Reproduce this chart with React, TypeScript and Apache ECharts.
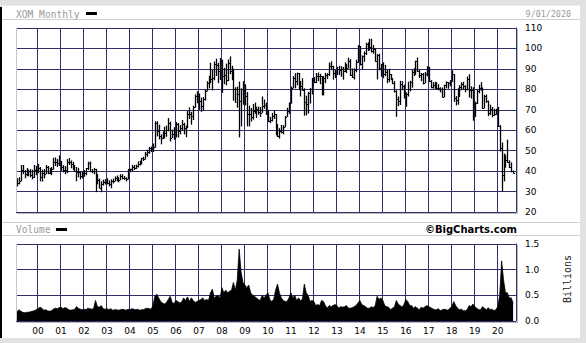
import React, { useEffect, useRef } from 'react';
import * as echarts from 'echarts';

// Monthly bars, Feb 1999 .. Sep 2020 (axis runs one extra month to Oct 2020)
const START_YEAR = 1999;
const START_MONTH = 2;
const MONTH_COUNT = 261;

const priceHigh: number[] = [
  36.5, 37, 43, 43, 40.5, 41.5, 40.7, 41, 40.7, 43, 42.5,
  43.5, 42, 40.7, 41, 43, 42.5, 41.5, 42, 46.5, 46.7, 45.9, 47.7,
  45, 42.9, 42.5, 45.9, 46.4, 45.2, 44.5, 43, 42, 41.6, 39.9, 39.7,
  40.5, 41.5, 44.6, 44.7, 41, 41.5, 41.1, 38.5, 36.3, 35, 35.8, 36,
  36.5, 35.5, 36, 36.3, 37.4, 37.9, 37, 38.5, 38.5, 37.6, 37, 41.1,
  41.2, 43, 43, 43.2, 44.8, 45.1, 46.5, 47, 49.4, 50.5, 51.8, 52,
  53.5, 64.4, 64.4, 62.7, 58, 59.5, 61.7, 62.3, 65.95, 64.2, 60.3, 61.5,
  64, 63.5, 62.5, 65, 63.6, 62.3, 69.4, 71.2, 69, 72, 77.5, 79,
  78, 76, 76.2, 80, 84, 86.6, 93, 89.5, 93.6, 95, 93, 95.3,
  94.5, 90.5, 92.6, 94.6, 96.1, 91.5, 90, 81, 81.3, 83.8, 80.5, 84,
  82.5, 78.7, 72, 70.9, 72.8, 73.5, 71.5, 71.6, 71.4, 76.5, 75, 73.5,
  70, 66.5, 68.5, 69.9, 68, 63, 61, 62.6, 62.5, 67, 71, 73.6,
  81.4, 86.5, 87.9, 88.2, 88, 84, 85.4, 80.5, 76.9, 78.8, 80.7, 85.6,
  86, 88, 88.2, 87.6, 86.5, 86.5, 88.1, 87.9, 93.1, 93.7, 91.5, 89.7,
  91, 91.5, 91.3, 91, 93.2, 92.5, 95.5, 94.8, 90.2, 90.3, 94.5, 101.7,
  101.2, 96.6, 98.6, 102.8, 103, 104.8, 104.7, 101.7, 100, 97.2, 97.4, 92.5,
  93.2, 92, 89.5, 90.1, 87.5, 85.5, 84, 79.5, 76.5, 84.2, 84, 82.3,
  78.5, 83.7, 84.2, 89.5, 90.3, 94, 95.6, 89.5, 88, 88, 88.5, 91.3,
  91, 84.5, 83.5, 83.7, 83.5, 82.5, 81, 80.9, 82.3, 83.9, 83.6, 84.5,
  89.3, 87.4, 76.7, 80.5, 82, 83.5, 83.7, 82, 86.3, 87.4, 81.5, 81,
  74, 79.8, 82.2, 83.5, 80.9, 77.3, 77.5, 74.5, 72.5, 71.4, 70.5, 70.5,
  71.4, 62.5, 54, 48.6, 48, 55.4, 45.3, 44.3, 40.3,
];

const priceLow: number[] = [
  32.5, 33.5, 35, 38.5, 36.5, 37.5, 37.5, 37, 36, 36.7, 38,
  39, 35, 34.9, 36.5, 38.5, 38.5, 38.5, 38, 40.7, 42.5, 42, 42.5,
  40.1, 39.4, 38.5, 39, 43, 41.4, 40.6, 39.8, 35, 37, 36, 36.4,
  37.2, 38, 40.5, 39.5, 39, 38.5, 29.75, 33.5, 31.6, 29.7, 33, 33.5,
  33.5, 32.5, 31.6, 34, 35, 35, 34.5, 35.5, 36, 35.8, 35, 35.9,
  39.5, 40, 40.5, 41, 41.8, 42.8, 43.3, 45, 45.7, 47, 48.5, 49.3,
  49.3, 51.5, 57, 55.5, 53.1, 55.7, 56, 56.8, 59.5, 54.5, 56.2, 55.3,
  56.5, 56.4, 58, 60, 58, 56.6, 61, 65.5, 62.7, 65, 71, 73.2,
  70, 69, 69.5, 74.5, 79, 80.5, 83, 79.4, 84.4, 86.5, 83, 84.6,
  78.3, 82.5, 82, 84, 87.4, 84.5, 74.5, 73.3, 71, 56.5, 61.9, 72.5,
  72.1, 61.9, 61.9, 64.3, 65.2, 68, 66, 67.6, 66.5, 68.5, 70.5, 67.5,
  64, 63.5, 64.3, 65.5, 57.5, 56.7, 55.9, 58.5, 58, 61.5, 66.5, 68,
  73, 80.5, 80.5, 82, 79.6, 76.5, 79.3, 67.1, 67.3, 68.2, 73, 77.5,
  83, 83, 84, 82.5, 77.1, 77, 83, 85, 86.5, 89.5, 84.7, 85.5,
  87, 87, 86.1, 84.7, 88.5, 88, 90.2, 86.5, 85.6, 84.8, 88.4, 93,
  91.7, 89.7, 93.5, 96.8, 98.7, 99, 98, 97.4, 93.5, 84.8, 89.3, 86.2,
  85.5, 86.5, 83, 83.5, 84.5, 82.5, 78.5, 66.55, 71.8, 72.3, 79.5, 75.5,
  71.5, 76.5, 79, 80.8, 86.5, 87, 88.5, 85.5, 84, 82.4, 83, 86.3,
  83.5, 80.5, 80.3, 80.3, 80, 79.5, 78.5, 76, 76.1, 80.5, 80.3, 81.5,
  83.7, 73.9, 72.2, 72.5, 76.3, 79.5, 80, 78.5, 79.5, 76, 75.5, 64.65,
  66.5, 72.8, 78.1, 79.3, 70.5, 70.7, 73.4, 66.9, 67.5, 66.3, 67.1, 67.5,
  61.7, 49.6, 30.1, 35, 41.7, 44, 41.5, 39.4, 38.8,
];

const priceClose: number[] = [
  34, 35.3, 40.6, 40, 38.6, 39.6, 40, 38, 37, 40.3, 40.3,
  41.5, 37.3, 39, 38.8, 42, 39.3, 40, 40.8, 44.6, 44.6, 44, 43.5,
  42, 40.5, 40.5, 44.3, 44.3, 43.7, 41.8, 40.1, 39.4, 39.5, 37.4, 39.3,
  39, 41.3, 43.8, 40.2, 40, 40.9, 36.8, 35.5, 31.9, 33.7, 34.8, 34.9,
  34.2, 33.8, 35, 35.2, 36.4, 35.9, 35.6, 37.7, 36.6, 36.6, 36, 41,
  40.8, 42.2, 41.6, 42.6, 43.3, 44.4, 46.3, 46.1, 48.3, 49.2, 51.3, 51.3,
  51.6, 63.3, 59.6, 57, 56.2, 57.5, 58.8, 59.9, 63.5, 56.1, 58, 56.2,
  62.8, 59.4, 60.9, 63.1, 60.9, 61.4, 67.7, 67.7, 67.1, 71.4, 76.8, 76.6,
  74.1, 71.7, 75.5, 79.4, 83.2, 83.9, 85.1, 85.7, 92.6, 92, 89.2, 93.7,
  86.4, 87, 84.6, 93.1, 88.8, 88.1, 80.4, 80, 77.7, 74.1, 80.2, 79.8,
  76.5, 67.9, 68.1, 66.7, 69.4, 69.9, 70.4, 69.1, 68.6, 71.7, 72.1, 68.2,
  64.4, 65, 67, 67.8, 60.5, 57.1, 59.7, 59.3, 61.8, 66.5, 69.6, 73.1,
  80.7, 85.5, 84.1, 88, 83.5, 81.4, 79.8, 74, 72.6, 78.1, 80.4, 84.8,
  83.7, 86.5, 86.7, 86.3, 78.6, 85.6, 86.9, 87.3, 91.5, 91.2, 88.1, 86.6,
  90, 89.6, 90.1, 89, 90.5, 90.4, 93.8, 87.2, 86, 89.6, 93.5, 101.2,
  92.2, 96.3, 97.7, 102.4, 100.5, 100.7, 98.9, 99.5, 94, 96.7, 90.5, 92.5,
  87.4, 88.5, 85, 87.4, 85.2, 83.2, 79.2, 75.2, 74.4, 82.7, 81.7, 78,
  77.9, 80.2, 83.6, 88.4, 89, 93.7, 89, 87.1, 87.3, 83.3, 87.3, 90.3,
  83.9, 81.3, 82, 81.6, 80.5, 80.7, 80, 76.3, 82, 83.4, 83.3, 83.6,
  87.3, 75.7, 74.6, 77.8, 81.2, 82.7, 81.5, 80.2, 85, 79.7, 79.5, 68.2,
  73.3, 79, 80.8, 80.3, 70.8, 76.6, 74.4, 68.5, 70.6, 67.6, 68.1, 69.8,
  62.1, 51.4, 38, 46.5, 45.5, 44.7, 42.1, 39.9, 39,
];

// Monthly volume, billions of shares
const volume: number[] = [
  0.18, 0.22, 0.19, 0.17, 0.16, 0.17, 0.17, 0.18, 0.19, 0.2, 0.22,
  0.24, 0.27, 0.25, 0.21, 0.22, 0.2, 0.19, 0.2, 0.23, 0.25, 0.24, 0.26,
  0.27, 0.24, 0.26, 0.25, 0.22, 0.21, 0.22, 0.22, 0.28, 0.25, 0.23, 0.22,
  0.23, 0.22, 0.25, 0.24, 0.23, 0.24, 0.4, 0.28, 0.27, 0.3, 0.24, 0.23,
  0.24, 0.22, 0.24, 0.21, 0.22, 0.22, 0.21, 0.22, 0.23, 0.22, 0.21, 0.23,
  0.22, 0.24, 0.23, 0.22, 0.23, 0.21, 0.22, 0.22, 0.24, 0.25, 0.24, 0.23,
  0.3, 0.48, 0.52, 0.45, 0.38, 0.35, 0.33, 0.36, 0.42, 0.48, 0.36, 0.34,
  0.4, 0.38, 0.35, 0.37, 0.45, 0.4, 0.47, 0.38, 0.45, 0.4, 0.36, 0.38,
  0.4, 0.42, 0.45, 0.4, 0.42, 0.4, 0.55, 0.62, 0.45, 0.48, 0.5, 0.45,
  0.65, 0.55, 0.6, 0.55, 0.58, 0.6, 0.75, 0.6, 0.8, 1.4, 0.95, 0.75,
  0.7, 0.65, 0.7, 0.55, 0.5, 0.48, 0.45, 0.42, 0.4, 0.5, 0.45, 0.5,
  0.55, 0.42, 0.38, 0.42, 0.6, 0.72, 0.55, 0.45, 0.4, 0.38, 0.38, 0.45,
  0.55, 0.45, 0.5, 0.4, 0.45, 0.4, 0.42, 0.72, 0.55, 0.5, 0.38, 0.4,
  0.38, 0.3, 0.32, 0.3, 0.4, 0.38, 0.3, 0.25, 0.3, 0.28, 0.3, 0.32,
  0.3, 0.25, 0.28, 0.27, 0.28, 0.3, 0.25, 0.25, 0.26, 0.28, 0.3, 0.35,
  0.4, 0.32, 0.3, 0.28, 0.25, 0.25, 0.28, 0.26, 0.3, 0.48, 0.42, 0.45,
  0.4, 0.3, 0.28, 0.27, 0.22, 0.25, 0.27, 0.4, 0.33, 0.3, 0.27, 0.32,
  0.42, 0.38, 0.3, 0.3, 0.25, 0.28, 0.25, 0.22, 0.27, 0.25, 0.28, 0.3,
  0.28, 0.26, 0.24, 0.22, 0.22, 0.24, 0.2, 0.22, 0.23, 0.22, 0.21, 0.25,
  0.28, 0.38, 0.3, 0.25, 0.22, 0.23, 0.2, 0.2, 0.22, 0.3, 0.28, 0.33,
  0.28, 0.25, 0.22, 0.22, 0.28, 0.25, 0.22, 0.26, 0.22, 0.23, 0.2, 0.22,
  0.28, 0.5, 1.17, 0.8, 0.55, 0.55, 0.45, 0.45, 0.35,
];

const PRICE_MIN = 20;
const PRICE_MAX = 110;
const PRICE_STEP = 10;
const VOL_MIN = 0;
const VOL_MAX = 1.5;
const VOL_STEP = 0.5;

const months: string[] = [];
for (let i = 0; i < MONTH_COUNT; i++) {
  const m0 = START_MONTH - 1 + i;
  const y = START_YEAR + Math.floor(m0 / 12);
  const m = (m0 % 12) + 1;
  months.push(`${y}-${String(m).padStart(2, '0')}`);
}

const NAVY = '#2e2e68';
const SHADOW = '#b8b8b8';
const SEP = '#cfcfcf';
const LABEL_FONT = '"DejaVu Sans", Verdana, sans-serif';
const MONO = '"DejaVu Sans Mono", monospace';

const isJan = (_i: number, v: string) => typeof v === 'string' && v.endsWith('-01');

export default function App() {
  const ref = useRef<HTMLDivElement>(null);

  useEffect(() => {
    if (!ref.current) return;
    const chart = echarts.init(ref.current, undefined, { renderer: 'svg' });
    const priceData = priceHigh.map((h, i) => [i, h, priceLow[i], priceClose[i]]);

    const option: any = {
      animation: false,
      backgroundColor: 'transparent',
      grid: [
        { left: 16, top: 28, width: 500, height: 184, show: false },
        { left: 16, top: 244, width: 500, height: 77, show: false },
      ],
      xAxis: [
        {
          type: 'category',
          gridIndex: 0,
          data: months,
          boundaryGap: true,
          axisLine: { show: false },
          axisTick: { show: false },
          axisLabel: { show: false },
          splitLine: { show: true, interval: isJan, lineStyle: { color: NAVY, width: 1 } },
        },
        {
          type: 'category',
          gridIndex: 1,
          data: months,
          boundaryGap: true,
          axisLine: { show: false },
          axisTick: { show: false },
          axisLabel: {
            show: true,
            interval: isJan,
            formatter: (v: string) => v.slice(2, 4),
            color: '#000',
            fontSize: 9,
            fontFamily: LABEL_FONT,
            margin: 5,
          },
          splitLine: { show: true, interval: isJan, lineStyle: { color: NAVY, width: 1 } },
        },
      ],
      yAxis: [
        {
          type: 'value',
          gridIndex: 0,
          position: 'right',
          min: PRICE_MIN,
          max: PRICE_MAX,
          interval: PRICE_STEP,
          axisLine: { show: true, lineStyle: { color: NAVY, width: 1 } },
          axisTick: { show: false },
          axisLabel: { color: '#000', fontSize: 9, fontFamily: LABEL_FONT, margin: 9 },
          splitLine: { show: true, lineStyle: { color: NAVY, width: 1 } },
        },
        {
          type: 'value',
          gridIndex: 1,
          position: 'right',
          min: VOL_MIN,
          max: VOL_MAX,
          interval: VOL_STEP,
          axisLine: { show: true, lineStyle: { color: NAVY, width: 1 } },
          axisTick: { show: false },
          axisLabel: {
            color: '#000',
            fontSize: 9,
            fontFamily: LABEL_FONT,
            margin: 9,
            formatter: (v: number) => v.toFixed(1),
          },
          splitLine: { show: true, lineStyle: { color: NAVY, width: 1 } },
        },
      ],
      series: [
        {
          type: 'custom',
          name: 'XOM Monthly',
          xAxisIndex: 0,
          yAxisIndex: 0,
          data: priceData,
          encode: { x: 0, y: [1, 2, 3] },
          z: 5,
          renderItem: (_p: any, api: any) => {
            const idx = api.value(0);
            const hi = api.coord([idx, api.value(1)]);
            const lo = api.coord([idx, api.value(2)]);
            const cl = api.coord([idx, api.value(3)]);
            const px = Math.round(hi[0]) + 0.5;
            const cy = Math.round(cl[1]) + 0.5;
            return {
              type: 'group',
              children: [
                {
                  type: 'line',
                  shape: { x1: px, y1: hi[1], x2: px, y2: lo[1] },
                  style: { stroke: '#000', lineWidth: 1.3 },
                },
                {
                  type: 'line',
                  shape: { x1: px, y1: cy, x2: px + 1.6, y2: cy },
                  style: { stroke: '#000', lineWidth: 1 },
                },
              ],
            };
          },
        },
        {
          type: 'line',
          name: 'Volume',
          xAxisIndex: 1,
          yAxisIndex: 1,
          data: volume,
          symbol: 'none',
          z: 5,
          lineStyle: { color: '#000', width: 0.8 },
          areaStyle: { color: '#000', opacity: 1 },
        },
      ],
      graphic: [
        {
          type: 'text',
          x: 16,
          y: 14,
          style: { text: 'XOM Monthly', font: `9.6px ${MONO}`, fill: '#9a9a9a', verticalAlign: 'middle' },
        },
        { type: 'rect', shape: { x: 86, y: 12, width: 11, height: 3 }, style: { fill: '#000' } },
        {
          type: 'text',
          x: 571,
          y: 14,
          style: { text: '9/01/2020', font: `8.4px ${MONO}`, fill: '#9a9a9a', align: 'right', verticalAlign: 'middle' },
        },
        {
          type: 'text',
          x: 16,
          y: 229.5,
          style: { text: 'Volume', font: `9.6px ${MONO}`, fill: '#9a9a9a', verticalAlign: 'middle' },
        },
        { type: 'rect', shape: { x: 56, y: 228, width: 11, height: 3 }, style: { fill: '#000' } },
        {
          type: 'text',
          x: 517,
          y: 229,
          style: {
            text: '©BigCharts.com',
            font: `bold 10px "DejaVu Sans", Verdana, sans-serif`,
            fill: '#000',
            align: 'right',
            verticalAlign: 'middle',
          },
        },
        {
          type: 'text',
          x: 567.5,
          y: 279,
          rotation: Math.PI / 2,
          style: { text: 'Billions', font: `10px ${MONO}`, fill: '#222', align: 'center', verticalAlign: 'middle' },
        },
      ],
    };

    chart.setOption(option);
    return () => chart.dispose();
  }, []);

  const line = (l: number, t: number, w: number, h: number, c: string) => (
    <div style={{ position: 'absolute', left: l, top: t, width: w, height: h, background: c }} />
  );

  return (
    <div style={{ position: 'absolute', left: 0, top: 0, width: 586, height: 343, background: '#e2e2e2', overflow: 'hidden' }}>
      <div style={{ position: 'absolute', left: 2, top: 6, width: 578, height: 332, background: '#fff' }} />
      {line(0, 7, 2, 331, '#000')}
      {line(0, 5, 580, 1, '#efefef')}
      {line(2, 19, 578, 1, SEP)}
      {line(2, 222, 578, 1, SEP)}
      {line(2, 235, 578, 1, SEP)}
      {/* drop shadows of the plot frames */}
      {line(517, 29, 1, 185, SHADOW)}
      {line(17, 213, 501, 1, SHADOW)}
      {line(517, 245, 1, 77, SHADOW)}
      {line(17, 322, 501, 1, SHADOW)}
      <div ref={ref} style={{ position: 'absolute', left: 0, top: 0, width: 586, height: 343 }} />
      {/* light left edges of the plot frames, drawn over the chart */}
      {line(15, 27, 1, 187, '#fff')}
      {line(16, 28, 1, 184, '#c4c4c4')}
      {line(15, 243, 1, 79, '#fff')}
      {line(16, 244, 1, 77, '#c4c4c4')}
    </div>
  );
}
